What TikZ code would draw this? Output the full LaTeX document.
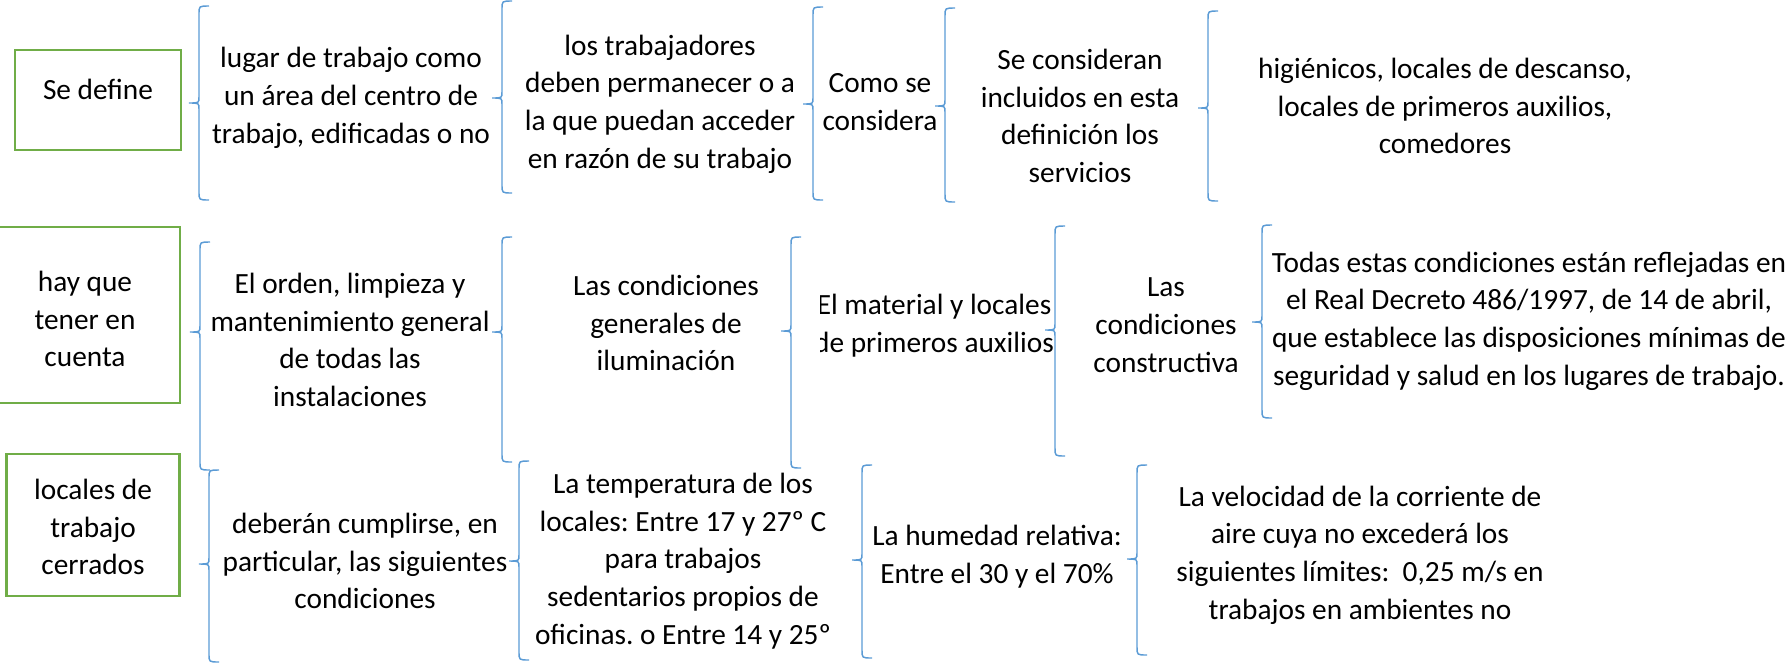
\documentclass[tikz,border=0pt]{standalone}
\usepackage{fontspec}
\setmainfont{Carlito}
\frenchspacing
\definecolor{bracecol}{HTML}{5B9BD5}
\definecolor{boxcol}{HTML}{70AD47}
\tikzset{
  txt/.style={align=center,inner sep=0pt,font=\fontsize{22}{28.3}\selectfont\frenchspacing},
  greenbox/.style={draw=boxcol,line width=2pt},
  wbr/.style={draw=bracecol,line width=1.1pt},
}
% x, top, bottom, tip y
\newcommand\wordbrace[4]{%
  \draw[wbr] (#1+10,#2) .. controls (#1,#2) .. (#1,#2+8) -- (#1,#4-6)
    .. controls (#1,#4) .. (#1-10,#4) .. controls (#1,#4) .. (#1,#4+6)
    -- (#1,#3-8) .. controls (#1,#3) .. (#1+10,#3);}
\begin{document}
\begin{tikzpicture}[x=0.75pt,y=-0.75pt]
\useasboundingbox (0,0) rectangle (1789,665);
% Row 1
\node[greenbox,minimum width=166*0.75pt,minimum height=100*0.75pt] (r1a) at (98,100) {};
\node[txt] (r1al) at (98,89) {Se define};
\wordbrace{199}{6}{200}{103}
\node[txt] (r1t1) at (351,98) {lugar de trabajo como\\un área del centro de\\trabajo, edificadas o no};
\wordbrace{502}{1}{193}{98}
\node[txt] (r1t2) at (660,104) {los trabajadores\\deben permanecer o a\\la que puedan acceder\\en razón de su trabajo};
\wordbrace{813}{7}{200}{104}
\node[txt] (r1t3) at (880,102) {Como se\\considera};
\wordbrace{945}{8}{202}{106}
\node[txt] (r1t4) at (1080,116) {Se consideran\\incluidos en esta\\definición los\\servicios};
\wordbrace{1208}{11}{201}{108}
\node[txt] (r1t5) at (1445,106) {higiénicos, locales de descanso,\\locales de primeros auxilios,\\comedores};
% Row 2
\node[greenbox,minimum width=190*0.75pt,minimum height=176*0.75pt] (r2a) at (85,315) {};
\node[txt] (r2al) at (85,319) {hay que\\tener en\\cuenta};
\wordbrace{200}{242}{470}{332}
\node[txt] (r2t1) at (350,340) {El orden, limpieza y\\mantenimiento general\\de todas las\\instalaciones};
\wordbrace{502}{237}{462}{332}
\node[txt] (r2t2) at (666,323) {Las condiciones\\generales de\\iluminación};
\wordbrace{791}{237}{468}{331}
\begin{scope}
\clip (820,230) rectangle (1054,460);
\node[txt] (r2t3) at (934,326) {El material y locales\\de primeros auxilios};
\end{scope}
\wordbrace{1055}{226}{456}{330}
\node[txt] (r2t4) at (1166,325) {Las\\condiciones\\constructiva};
\wordbrace{1262}{225}{418}{322}
\node[txt] (r2t5) at (1529,321) {Todas estas condiciones están reflejadas en\\el Real Decreto 486/1997, de 14 de abril,\\que establece las disposiciones mínimas de\\seguridad y salud en los lugares de trabajo.};
% Row 3
\node[greenbox,minimum width=173*0.75pt,minimum height=142*0.75pt] (r3a) at (93,525) {};
\node[txt] (r3al) at (93,527) {locales de\\trabajo\\cerrados};
\wordbrace{209}{470}{662}{564}
\node[txt] (r3t1) at (365,561) {deberán cumplirse, en\\particular, las siguientes\\condiciones};
\wordbrace{519}{461}{660}{561}
\begin{scope}
\clip (525,455) rectangle (850,648);
\node[txt] (r3t2) at (683,561) {La temperatura de los\\locales: Entre 17 y 27º C\\para trabajos\\sedentarios propios de\\oficinas. o Entre 14 y 25º};
\end{scope}
\wordbrace{862}{465}{658}{560}
\node[txt] (r3t3) at (997,557) {La humedad relativa:\\Entre el 30 y el 70\%};
\wordbrace{1137}{465}{655}{559}
\node[txt] (r3t4) at (1360,555) {La velocidad de la corriente de\\aire cuya no excederá los\\siguientes límites:\ \ 0,25 m/s en\\trabajos en ambientes no};
\end{tikzpicture}
\end{document}
